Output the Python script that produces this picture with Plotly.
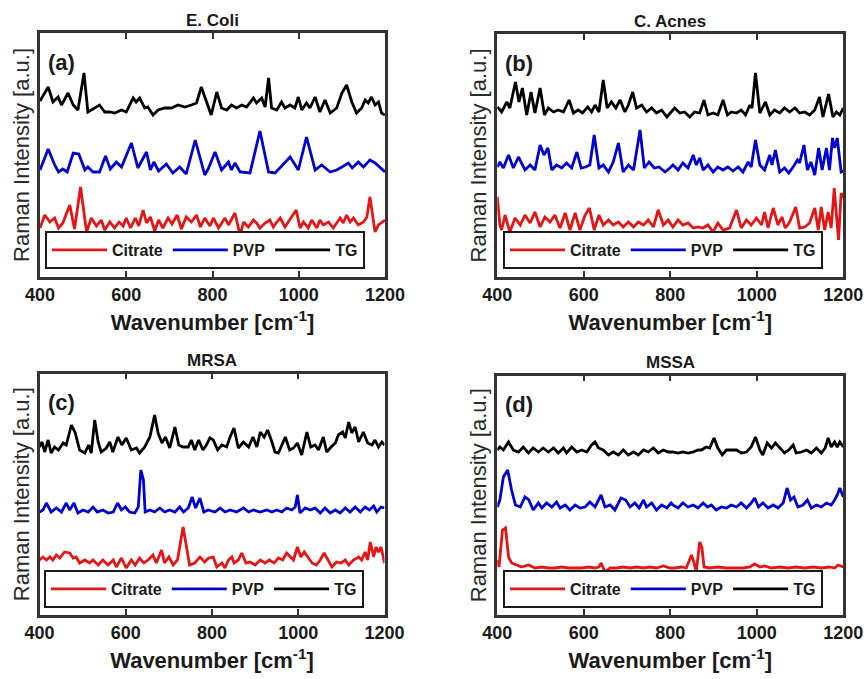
import plotly.graph_objects as go

# ---------------- data (Raman intensity, a.u., stacked as in the figure) ----------------
ecoli_tg_x = [400, 419, 430, 442, 450, 465, 477, 488, 502, 511, 519, 538, 550, 562, 573, 589, 600, 616, 623, 631, 643, 650, 662, 674, 689, 705, 720, 736, 751, 763, 774, 786, 797, 810, 821, 833, 844, 856, 868, 879, 895, 902, 914, 922, 930, 937, 949, 960, 968, 980, 991, 999, 1007, 1018, 1026, 1038, 1049, 1061, 1073, 1088, 1100, 1111, 1123, 1134, 1146, 1154, 1161, 1169, 1177, 1185, 1192, 1200]
ecoli_tg_y = [176, 190, 175, 180, 172, 184, 172, 167, 204, 165, 167, 172, 165, 165, 164, 167, 165, 179, 175, 179, 169, 170, 162, 167, 169, 169, 172, 170, 172, 174, 190, 175, 162, 185, 169, 167, 172, 169, 172, 170, 179, 174, 179, 170, 199, 169, 167, 175, 169, 172, 169, 180, 167, 174, 169, 180, 165, 177, 164, 169, 184, 192, 175, 164, 169, 177, 174, 180, 172, 175, 164, 162]

ecoli_pvp_x = [400, 419, 434, 443, 453, 463, 477, 490, 504, 511, 523, 538, 552, 563, 577, 589, 612, 627, 647, 656, 664, 675, 693, 708, 724, 739, 760, 782, 790, 806, 821, 837, 844, 852, 864, 887, 910, 930, 945, 980, 999, 1018, 1038, 1053, 1073, 1088, 1100, 1115, 1124, 1138, 1150, 1165, 1177, 1200]
ecoli_pvp_y = [107, 128, 112, 105, 108, 105, 124, 123, 107, 110, 105, 105, 121, 108, 115, 110, 134, 109, 125, 107, 115, 106, 113, 104, 110, 103, 137, 102, 108, 125, 107, 115, 107, 114, 105, 104, 146, 105, 104, 120, 107, 140, 107, 112, 105, 107, 110, 114, 109, 115, 110, 117, 114, 105]

ecoli_cit_x = [400, 411, 423, 434, 443, 453, 469, 480, 494, 508, 519, 531, 542, 550, 562, 573, 583, 593, 600, 610, 621, 629, 639, 647, 656, 666, 675, 685, 697, 706, 718, 728, 739, 751, 763, 772, 782, 794, 802, 814, 829, 837, 852, 864, 872, 883, 895, 902, 910, 922, 933, 941, 949, 957, 968, 994, 1003, 1011, 1022, 1030, 1042, 1049, 1057, 1069, 1080, 1096, 1103, 1111, 1119, 1127, 1138, 1150, 1158, 1165, 1177, 1185, 1200]
ecoli_cit_y = [49, 62, 55, 59, 49, 54, 72, 48, 90, 45, 59, 51, 57, 47, 55, 49, 55, 51, 59, 49, 59, 51, 67, 54, 60, 46, 57, 49, 59, 53, 62, 48, 60, 55, 62, 50, 59, 51, 59, 49, 59, 52, 64, 42, 55, 50, 57, 54, 49, 54, 57, 50, 55, 59, 50, 67, 49, 55, 49, 57, 49, 57, 52, 55, 49, 59, 54, 62, 55, 59, 52, 55, 60, 80, 45, 52, 57]

acnes_tg_x = [400, 410, 422, 429, 442, 450, 458, 468, 478, 487, 499, 509, 518, 530, 541, 553, 566, 576, 587, 597, 609, 618, 626, 635, 645, 654, 664, 674, 684, 695, 703, 713, 722, 734, 745, 757, 768, 780, 792, 803, 810, 822, 833, 845, 856, 868, 878, 887, 899, 910, 922, 932, 941, 953, 964, 974, 984, 989, 997, 1007, 1020, 1030, 1041, 1053, 1064, 1076, 1088, 1099, 1111, 1122, 1134, 1145, 1153, 1166, 1176, 1184, 1192, 1200]
acnes_tg_y = [170, 165, 175, 169, 195, 175, 189, 162, 185, 164, 189, 162, 169, 165, 167, 165, 177, 164, 167, 164, 170, 165, 172, 165, 197, 169, 175, 169, 177, 165, 172, 185, 169, 172, 165, 169, 164, 167, 160, 165, 169, 164, 165, 160, 165, 164, 177, 162, 164, 162, 177, 162, 165, 164, 167, 162, 172, 169, 204, 164, 175, 162, 167, 164, 169, 165, 169, 164, 165, 162, 167, 180, 160, 183, 160, 165, 162, 169]

acnes_pvp_x = [400, 406, 414, 426, 437, 449, 464, 476, 487, 499, 508, 517, 526, 537, 549, 560, 572, 584, 594, 604, 614, 624, 635, 645, 657, 668, 680, 691, 703, 715, 730, 740, 751, 763, 774, 788, 799, 806, 818, 829, 841, 853, 860, 868, 876, 887, 899, 910, 922, 933, 945, 957, 968, 980, 987, 997, 1007, 1018, 1030, 1035, 1043, 1053, 1064, 1074, 1084, 1094, 1099, 1109, 1117, 1125, 1134, 1143, 1151, 1161, 1168, 1175, 1180, 1186, 1195, 1200]
acnes_pvp_y = [110, 115, 109, 122, 109, 120, 107, 112, 107, 132, 122, 129, 107, 112, 109, 114, 109, 125, 109, 110, 112, 142, 109, 112, 105, 115, 134, 105, 112, 107, 147, 109, 115, 109, 110, 105, 109, 112, 107, 114, 109, 122, 112, 119, 107, 112, 105, 110, 107, 110, 106, 110, 105, 115, 110, 137, 112, 107, 122, 112, 127, 105, 109, 104, 110, 117, 114, 132, 107, 115, 102, 129, 107, 129, 107, 139, 129, 139, 105, 106]

acnes_cit_x = [400, 406, 410, 418, 429, 441, 453, 464, 476, 487, 499, 510, 522, 533, 545, 557, 568, 580, 591, 603, 613, 624, 635, 645, 657, 668, 680, 691, 703, 715, 726, 738, 749, 761, 772, 784, 795, 806, 818, 829, 841, 853, 864, 876, 887, 899, 910, 922, 937, 953, 964, 976, 987, 999, 1011, 1018, 1026, 1038, 1049, 1058, 1066, 1076, 1090, 1099, 1111, 1122, 1134, 1142, 1149, 1157, 1165, 1172, 1179, 1186, 1189, 1195, 1200]
acnes_cit_y = [80, 52, 47, 62, 45, 59, 52, 62, 54, 65, 50, 60, 55, 62, 49, 64, 47, 64, 47, 62, 69, 47, 62, 52, 57, 52, 55, 50, 55, 50, 55, 52, 57, 50, 67, 52, 57, 50, 57, 52, 54, 49, 50, 49, 52, 45, 54, 47, 49, 67, 49, 57, 52, 59, 52, 65, 49, 69, 52, 60, 49, 55, 70, 49, 50, 54, 69, 47, 70, 47, 65, 49, 89, 45, 37, 84, 79]

mrsa_tg_x = [400, 406, 412, 420, 427, 435, 444, 455, 462, 474, 483, 493, 505, 514, 520, 528, 536, 543, 555, 563, 570, 582, 591, 601, 613, 625, 632, 644, 656, 667, 675, 684, 692, 702, 714, 723, 733, 745, 752, 760, 769, 779, 787, 795, 803, 813, 823, 834, 842, 851, 861, 873, 885, 895, 904, 912, 921, 929, 939, 946, 954, 962, 970, 980, 989, 998, 1008, 1020, 1029, 1039, 1047, 1058, 1066, 1076, 1086, 1093, 1103, 1109, 1117, 1124, 1132, 1140, 1151, 1161, 1171, 1178, 1186, 1194, 1200]
mrsa_tg_y = [168, 173, 163, 175, 162, 168, 165, 172, 170, 190, 182, 165, 162, 170, 162, 195, 173, 163, 167, 173, 163, 178, 170, 177, 165, 167, 162, 168, 178, 200, 182, 172, 178, 167, 188, 170, 168, 168, 175, 165, 175, 165, 170, 177, 175, 165, 170, 168, 178, 187, 167, 173, 168, 178, 168, 183, 178, 185, 173, 163, 162, 170, 178, 165, 167, 172, 160, 183, 168, 170, 165, 178, 163, 168, 172, 180, 183, 177, 193, 182, 188, 173, 183, 172, 170, 175, 168, 173, 170]

mrsa_pvp_x = [400, 408, 416, 427, 439, 451, 462, 470, 480, 489, 501, 513, 524, 534, 547, 559, 571, 581, 590, 599, 609, 621, 629, 635, 641, 645, 656, 667, 679, 690, 702, 714, 725, 734, 745, 754, 762, 772, 781, 791, 807, 819, 830, 842, 857, 873, 885, 896, 912, 927, 939, 950, 962, 973, 985, 993, 998, 1004, 1016, 1028, 1039, 1051, 1062, 1074, 1086, 1097, 1109, 1120, 1132, 1144, 1155, 1165, 1175, 1182, 1192, 1200]
mrsa_pvp_y = [103, 105, 112, 103, 107, 103, 112, 105, 112, 102, 105, 103, 108, 103, 105, 102, 103, 112, 105, 108, 103, 102, 108, 145, 135, 103, 105, 103, 107, 103, 105, 103, 108, 103, 107, 118, 107, 117, 103, 105, 103, 107, 103, 105, 103, 107, 103, 105, 103, 105, 103, 105, 103, 107, 105, 108, 120, 102, 107, 105, 107, 102, 107, 102, 105, 102, 107, 103, 108, 103, 108, 105, 109, 103, 108, 107]

mrsa_cit_x = [400, 408, 416, 424, 431, 439, 447, 458, 470, 478, 485, 493, 505, 516, 524, 536, 547, 559, 571, 578, 590, 601, 613, 622, 632, 642, 652, 663, 671, 683, 690, 700, 710, 720, 733, 741, 748, 760, 772, 783, 792, 803, 811, 823, 830, 838, 846, 851, 861, 869, 879, 888, 900, 912, 923, 933, 944, 954, 964, 973, 983, 989, 998, 1006, 1014, 1024, 1032, 1042, 1051, 1060, 1070, 1078, 1089, 1099, 1109, 1117, 1128, 1140, 1147, 1155, 1161, 1167, 1175, 1180, 1186, 1192, 1200]
mrsa_cit_y = [55, 58, 55, 58, 55, 60, 57, 63, 62, 57, 58, 52, 55, 52, 55, 50, 55, 50, 55, 48, 57, 47, 55, 50, 57, 52, 55, 60, 52, 65, 52, 58, 50, 55, 88, 68, 50, 52, 58, 53, 57, 58, 48, 52, 47, 55, 58, 52, 55, 62, 52, 53, 50, 55, 52, 55, 52, 57, 55, 62, 58, 55, 68, 58, 63, 57, 52, 50, 55, 62, 55, 48, 53, 52, 55, 50, 55, 58, 55, 63, 55, 73, 58, 68, 63, 68, 52]

mssa_tg_x = [400, 406, 414, 426, 437, 449, 460, 472, 483, 495, 506, 518, 530, 541, 553, 560, 572, 584, 595, 607, 618, 626, 634, 645, 657, 668, 680, 691, 703, 715, 726, 738, 749, 761, 772, 784, 795, 806, 818, 829, 841, 853, 864, 872, 883, 891, 901, 910, 920, 930, 941, 953, 964, 976, 987, 997, 1007, 1014, 1024, 1034, 1043, 1053, 1064, 1074, 1084, 1091, 1103, 1115, 1126, 1138, 1149, 1158, 1165, 1172, 1180, 1186, 1192, 1200]
mssa_tg_y = [165, 168, 165, 173, 165, 163, 168, 162, 167, 163, 167, 163, 167, 162, 167, 162, 168, 163, 165, 163, 170, 173, 167, 165, 160, 163, 160, 165, 160, 163, 160, 165, 163, 167, 162, 165, 163, 163, 162, 163, 162, 163, 165, 165, 168, 167, 177, 167, 160, 165, 165, 165, 162, 163, 168, 178, 165, 160, 172, 167, 172, 167, 162, 165, 170, 162, 163, 165, 162, 167, 162, 167, 177, 168, 173, 168, 173, 168]

mssa_pvp_x = [400, 406, 414, 424, 433, 442, 453, 464, 473, 483, 495, 503, 514, 526, 537, 545, 557, 568, 580, 591, 603, 614, 626, 640, 649, 661, 672, 686, 697, 707, 718, 728, 738, 745, 757, 768, 780, 792, 802, 806, 818, 829, 841, 853, 864, 876, 886, 895, 906, 918, 930, 941, 953, 964, 976, 987, 995, 1004, 1014, 1026, 1038, 1049, 1061, 1070, 1078, 1086, 1095, 1107, 1117, 1126, 1138, 1149, 1161, 1172, 1180, 1186, 1192, 1200]
mssa_pvp_y = [108, 115, 138, 145, 125, 110, 108, 118, 115, 105, 112, 107, 112, 108, 113, 107, 110, 105, 110, 107, 108, 113, 108, 120, 108, 110, 105, 117, 115, 108, 112, 107, 115, 108, 112, 105, 110, 107, 112, 110, 107, 112, 108, 110, 107, 112, 108, 110, 105, 108, 107, 110, 108, 112, 107, 112, 117, 108, 112, 107, 110, 107, 112, 127, 115, 118, 108, 110, 115, 107, 110, 108, 112, 110, 115, 120, 127, 118]

mssa_cit_x = [400, 404, 412, 419, 426, 433, 445, 456, 472, 487, 503, 518, 533, 549, 564, 580, 595, 611, 626, 635, 640, 645, 649, 661, 676, 691, 707, 722, 738, 753, 768, 784, 799, 810, 826, 837, 842, 849, 855, 860, 868, 873, 878, 891, 910, 930, 949, 968, 984, 995, 1007, 1018, 1034, 1053, 1072, 1091, 1111, 1130, 1149, 1168, 1180, 1188, 1200]
mssa_cit_y = [55, 48, 85, 87, 58, 52, 50, 48, 50, 47, 48, 47, 47, 48, 47, 47, 47, 48, 47, 48, 52, 47, 43, 47, 47, 48, 47, 48, 47, 48, 47, 49, 47, 47, 48, 47, 53, 60, 52, 43, 73, 68, 48, 47, 48, 47, 47, 47, 48, 51, 48, 49, 47, 48, 47, 48, 47, 48, 47, 48, 47, 50, 48]

panel_titles = ["E. Coli", "C. Acnes", "MRSA", "MSSA"]
panel_letters = ["(a)", "(b)", "(c)", "(d)"]
series_names = ["Citrate", "PVP", "TG"]
x_ticks = [400, 600, 800, 1000, 1200]
x_range = [400, 1200]
y_tops = [244, 243, 241.5, 239.5]

panel_series = [
    [(ecoli_cit_x, ecoli_cit_y), (ecoli_pvp_x, ecoli_pvp_y), (ecoli_tg_x, ecoli_tg_y)],
    [(acnes_cit_x, acnes_cit_y), (acnes_pvp_x, acnes_pvp_y), (acnes_tg_x, acnes_tg_y)],
    [(mrsa_cit_x, mrsa_cit_y), (mrsa_pvp_x, mrsa_pvp_y), (mrsa_tg_x, mrsa_tg_y)],
    [(mssa_cit_x, mssa_cit_y), (mssa_pvp_x, mssa_pvp_y), (mssa_tg_x, mssa_tg_y)],
]

# ---------------- styling / layout ----------------
W, H = 867, 679
colors = ["rgb(226,22,22)", "rgb(0,0,204)", "rgb(0,0,0)"]
FONT = "Liberation Sans, Arial, sans-serif"
frame = "#333333"

# plot boxes in pixels: (left, right, top, bottom)
boxes = [(40, 385, 33, 277), (497.3, 843.3, 34, 277), (39.5, 384.5, 373.5, 615), (497.3, 843.3, 375.5, 615)]
legend_boxes = [(45, 269), (503, 269), (44, 608), (503, 608)]

fig = go.Figure()
legend_keys = ["legend", "legend2", "legend3", "legend4"]

for p in range(4):
    ax = "" if p == 0 else str(p + 1)
    for s, (xs, ys) in enumerate(panel_series[p]):
        fig.add_trace(go.Scatter(
            x=xs, y=ys, mode="lines", name="<b>%s</b>" % series_names[s],
            line=dict(color=colors[s], width=2.8),
            xaxis="x" + ax, yaxis="y" + ax, legend=legend_keys[p],
        ))

layout = dict(
    template="none",
    width=W, height=H, margin=dict(l=0, r=0, t=0, b=0, autoexpand=False),
    paper_bgcolor="white", plot_bgcolor="white",
    font=dict(family=FONT, color="#1a1a1a"),
    annotations=[],
)

for p in range(4):
    l, r, t, b = boxes[p]
    ax = "" if p == 0 else str(p + 1)
    layout["xaxis" + ax] = dict(
        domain=[l / W, r / W], range=x_range, anchor="y" + ax, automargin=False,
        tickvals=x_ticks, ticktext=["<b>%d</b>" % v for v in x_ticks],
        ticks="inside", ticklen=6, tickwidth=2, tickcolor=frame,
        showline=True, linewidth=2.5, linecolor=frame, mirror="allticks",
        showgrid=False, zeroline=False,
        tickfont=dict(size=18, family=FONT, color="#1a1a1a"),
        title=dict(text="<b>Wavenumber [cm<sup>-1</sup>]</b>", font=dict(size=22, family=FONT, color="#1a1a1a"), standoff=11),
    )
    layout["yaxis" + ax] = dict(
        domain=[1 - b / H, 1 - t / H], range=[0, y_tops[p]], anchor="x" + ax, automargin=False,
        showticklabels=False, ticks="",
        showline=True, linewidth=2.5, linecolor=frame, mirror=True,
        showgrid=False, zeroline=False,
        title=dict(text="Raman Intensity [a.u.]", font=dict(size=22, family=FONT, color="#2a2a2a"), standoff=2),
    )
    lx, ly = legend_boxes[p]
    layout[legend_keys[p]] = dict(
        x=lx / W, y=1 - ly / H, xanchor="left", yanchor="bottom",
        orientation="h", bgcolor="white", bordercolor="#1a1a1a", borderwidth=2,
        font=dict(size=16, family=FONT, color="#1a1a1a"),
        entrywidth=0, traceorder="normal", itemwidth=55,
    )
    layout["annotations"].append(dict(
        text="<b>%s</b>" % panel_titles[p], xref="x%s domain" % ax, yref="y%s domain" % ax,
        x=0.5, y=1, xanchor="center", yanchor="middle", yshift=13, showarrow=False,
        font=dict(size=17, family=FONT, color="#1a1a1a"),
    ))
    layout["annotations"].append(dict(
        text="<b>%s</b>" % panel_letters[p], xref="x%s domain" % ax, yref="y%s domain" % ax,
        x=0, y=1, xanchor="left", yanchor="middle", xshift=6, yshift=-29, showarrow=False,
        font=dict(size=22, family=FONT, color="#1a1a1a"),
    ))

fig.update_layout(**layout)
fig.write_html("out.html")
